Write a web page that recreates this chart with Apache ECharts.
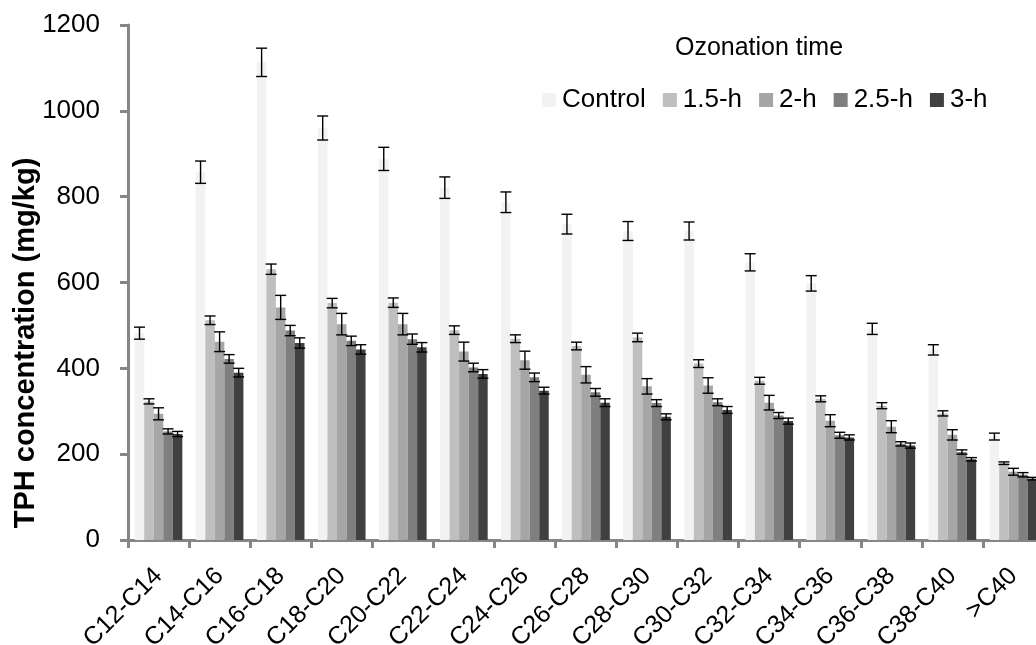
<!DOCTYPE html>
<html>
<head>
<meta charset="utf-8">
<script src="https://cdn.jsdelivr.net/npm/echarts@6/dist/echarts.min.js"></script>
<style>
  html, body { margin: 0; padding: 0; background: #ffffff; }
  #chart { width: 1036px; height: 645px; }
</style>
</head>
<body>
<div id="chart"></div>
<script>
// Carbon-number fractions
const categories = ['C12-C14', 'C14-C16', 'C16-C18', 'C18-C20', 'C20-C22', 'C22-C24', 'C24-C26',
  'C26-C28', 'C28-C30', 'C30-C32', 'C32-C34', 'C34-C36', 'C36-C38', 'C38-C40', '>C40'];

const seriesNames = ['Control', '1.5-h', '2-h', '2.5-h', '3-h'];

// Mean TPH concentration (mg/kg) per fraction
const control = [482, 857, 1113, 960, 888, 821, 787, 736, 720, 720, 647, 598, 492, 443, 241];
const h15 = [323, 512, 631, 552, 553, 489, 469, 452, 472, 411, 371, 329, 313, 295, 179];
const h2 = [294, 462, 542, 503, 503, 439, 419, 385, 358, 360, 320, 278, 264, 245, 159];
const h25 = [253, 422, 488, 464, 468, 402, 379, 344, 319, 321, 290, 244, 224, 205, 152];
const h3 = [247, 390, 459, 444, 449, 387, 348, 320, 287, 303, 277, 239, 220, 188, 143];

// Error (± mg/kg) per fraction
const controlErr = [14, 26, 33, 28, 27, 25, 24, 23, 22, 21, 20, 18, 13, 12, 8];
const h15Err = [6, 10, 12, 11, 11, 10, 9, 9, 10, 9, 8, 7, 7, 6, 3];
const h2Err = [14, 23, 28, 25, 25, 22, 21, 19, 18, 18, 17, 14, 14, 12, 8];
const h25Err = [6, 10, 12, 11, 12, 10, 10, 9, 8, 8, 7, 7, 5, 5, 5];
const h3Err = [6, 10, 12, 11, 11, 10, 8, 9, 7, 8, 7, 6, 6, 4, 3];

const yTicks = [0, 200, 400, 600, 800, 1000, 1200];

const values = [control, h15, h2, h25, h3];
const errors = [controlErr, h15Err, h2Err, h25Err, h3Err];
const colors = ['#f2f2f2', '#bfbfbf', '#a6a6a6', '#7f7f7f', '#404040'];

const CATEGORY_GAP = 0.22;
const FONT = '"Liberation Sans", Arial, sans-serif';
const axisGray = '#868686';

const chart = echarts.init(document.getElementById('chart'), null, { renderer: 'canvas' });

const barSeries = seriesNames.map((name, i) => ({
  name: name,
  type: 'bar',
  data: values[i],
  barGap: '0%',
  barCategoryGap: (CATEGORY_GAP * 100) + '%',
  itemStyle: { color: colors[i] },
  animation: false,
  z: 2
}));

// Error bars: one custom series per group, placed at the matching bar centre
const errSeries = seriesNames.map((name, i) => ({
  name: name + ' error',
  type: 'custom',
  data: values[i].map((v, k) => [k, v, errors[i][k]]),
  encode: { x: 0, y: 1 },
  z: 5,
  animation: false,
  silent: true,
  clip: false,
  renderItem: function (params, api) {
    const k = api.value(0);
    const v = api.value(1);
    const e = api.value(2);
    const center = api.coord([k, 0])[0];
    const bandW = api.size([1, 0])[0];
    const total = bandW * (1 - CATEGORY_GAP);
    const barW = total / seriesNames.length;
    const cx = center - total / 2 + barW * (i + 0.5);
    const yTop = api.coord([k, v + e])[1];
    const yBot = api.coord([k, v - e])[1];
    const half = 5.5;
    const style = { stroke: '#000000', lineWidth: 1.4 };
    return {
      type: 'group',
      children: [
        { type: 'line', shape: { x1: cx, y1: yTop, x2: cx, y2: yBot }, style: style },
        { type: 'line', shape: { x1: cx - half, y1: yTop, x2: cx + half, y2: yTop }, style: style },
        { type: 'line', shape: { x1: cx - half, y1: yBot, x2: cx + half, y2: yBot }, style: style }
      ]
    };
  }
}));

const option = {
  backgroundColor: '#ffffff',
  animation: false,
  title: {
    text: 'Ozonation time',
    left: 754,
    top: 31,
    textAlign: 'center',
    textStyle: { fontFamily: FONT, fontSize: 25, fontWeight: 'normal', color: '#000000' }
  },
  legend: {
    data: seriesNames,
    left: 537,
    top: 82,
    itemWidth: 14,
    itemHeight: 14,
    itemGap: 17,
    icon: 'rect',
    textStyle: { fontFamily: FONT, fontSize: 26, color: '#000000', padding: [0, 0, 0, 1] }
  },
  grid: {
    left: 128, right: -8, top: 25, bottom: 105,
    containLabel: false,
    outerBoundsMode: 'none'
  },
  xAxis: {
    type: 'category',
    data: categories,
    boundaryGap: true,
    axisLine: { show: true, lineStyle: { color: axisGray, width: 3 } },
    axisTick: { show: true, length: 8, interval: 0, lineStyle: { color: axisGray, width: 3 } },
    axisLabel: {
      interval: 0,
      rotate: 45,
      margin: 32,
      fontFamily: FONT,
      fontSize: 25,
      color: '#000000'
    }
  },
  yAxis: {
    type: 'value',
    min: yTicks[0],
    max: yTicks[yTicks.length - 1],
    interval: yTicks[1] - yTicks[0],
    axisLine: { show: true, lineStyle: { color: axisGray, width: 3 } },
    axisTick: { show: true, length: 8, lineStyle: { color: axisGray, width: 3 } },
    splitLine: { show: false },
    axisLabel: {
      margin: 28,
      fontFamily: FONT,
      fontSize: 26,
      color: '#000000',
      formatter: function (v) { return String(v); }
    }
  },
  graphic: [
    {
      type: 'text',
      x: 26,
      y: 343,
      rotation: Math.PI / 2,
      style: {
        text: 'TPH concentration (mg/kg)',
        font: 'bold 29px "Liberation Sans", Arial, sans-serif',
        fill: '#000000',
        textAlign: 'center',
        textVerticalAlign: 'middle'
      }
    }
  ],
  series: barSeries.concat(errSeries)
};

chart.setOption(option);
</script>
</body>
</html>
